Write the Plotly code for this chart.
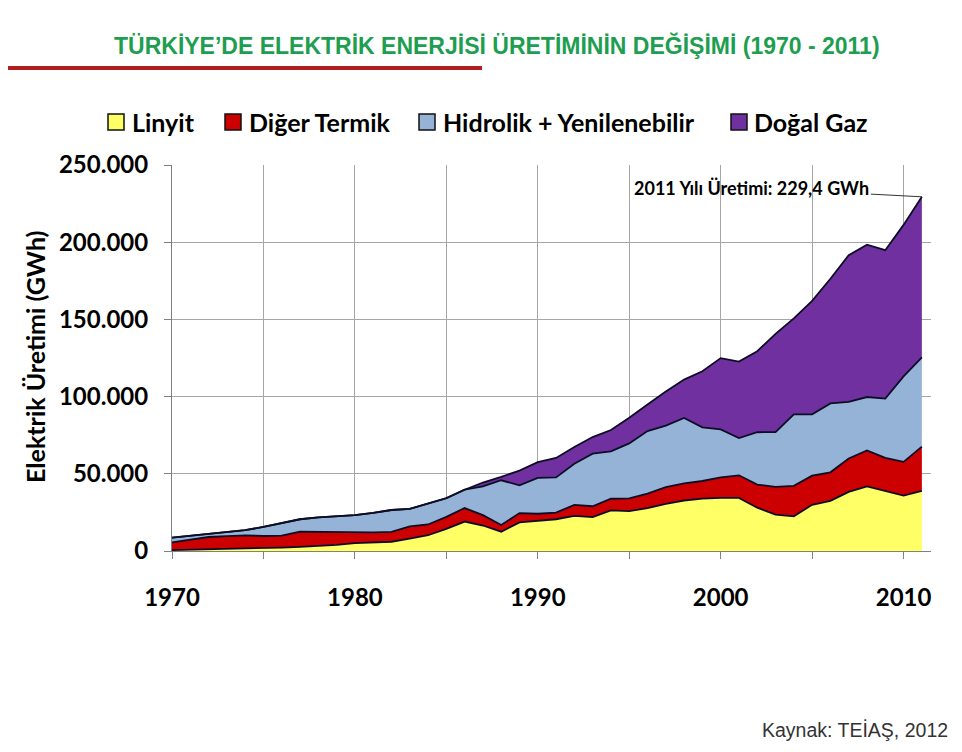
import plotly.graph_objects as go

years = list(range(1970, 2012))

linyit = [600, 800, 1000, 1300, 1500, 1800, 2200, 2700, 3300, 4000,
          5049, 5600, 6000, 8000, 10200, 14318, 19069, 16500, 12500, 18500,
          19561, 20563, 22756, 21964, 26257, 25815, 27840, 30587, 32707, 33908,
          34367, 34372, 28056, 23590, 22450, 29946, 32433, 38295, 41858, 39089,
          35942, 38870]

diger_termik = [4990, 6371, 8061, 8386, 8619, 7919, 7708, 9850, 9046, 8231,
                6878, 6457, 6385, 8004, 6988, 7798, 8753, 6707, 4359, 6056,
                4562, 4330, 7134, 7035, 7578, 8226, 9289, 10724, 11148, 11427,
                13350, 14652, 14993, 17936, 19766, 18850, 18550, 21621, 23278, 21259,
                21778, 28734]

hidrolik_yen = [3033, 2610, 2181, 2603, 3358, 5904, 8375, 8015, 9380, 10291,
                11348, 12616, 14167, 11343, 13426, 12045, 11873, 18618, 28950, 17940,
                23228, 22764, 26638, 34021, 30665, 35627, 40559, 39899, 42329, 34759,
                30988, 24152, 33854, 35519, 46240, 39715, 44626, 36617, 34597, 38370,
                55344, 57743]

dogal_gaz = [0, 0, 0, 0, 0, 0, 0, 0, 0, 0,
             0, 0, 0, 0, 0, 58, 0, 2528, 2240, 9547,
             10192, 12589, 10814, 10788, 13822, 16579, 17174, 22086, 24838, 36346,
             46217, 49549, 52497, 63536, 62242, 73445, 80691, 95025, 98685, 96095,
             98144, 104048]

series_names = ["Linyit", "Diğer Termik", "Hidrolik + Yenilenebilir", "Doğal Gaz"]
series_values = [linyit, diger_termik, hidrolik_yen, dogal_gaz]
series_colors = ["#FFFF66", "#CC0000", "#95B3D7", "#7030A0"]

x_tickvals = list(range(1970, 2011, 5))
x_ticktext = ["1970", "", "1980", "", "1990", "", "2000", "", "2010"]
y_tickvals = [0, 50000, 100000, 150000, 200000, 250000]
y_ticktext = ["0", "50.000", "100.000", "150.000", "200.000", "250.000"]

total_2011 = sum(s[-1] for s in series_values)

FONT = "Lato, 'Open Sans', sans-serif"

# figure geometry (page is offset by the 8px body margin)
OFF = 8
W, H = 946, 736
ML, MR, MT, MB = 164, 23, 157, 193
PW = W - ML - MR
PH = H - MT - MB


def px(xpage):
    return (xpage - OFF - ML) / PW


def py(ypage):
    return (H - MB - (ypage - OFF)) / PH


fig = go.Figure()
for name, vals, col in zip(series_names, series_values, series_colors):
    fig.add_trace(go.Scatter(
        x=years, y=vals, name=name, mode="lines",
        stackgroup="one", fillcolor=col, showlegend=False,
        line=dict(color="#0d0d26", width=1.8, shape="linear"),
    ))

fig.update_layout(
    width=W, height=H,
    paper_bgcolor="white", plot_bgcolor="white",
    margin=dict(l=ML, r=MR, t=MT, b=MB, autoexpand=False),
    showlegend=False,
    font=dict(family=FONT, color="black"),
)

fig.update_xaxes(
    range=[1970, 2011.5], tickvals=x_tickvals, ticktext=x_ticktext,
    showgrid=True, gridcolor="#a6a6a6", gridwidth=1,
    showline=True, linecolor="#808080", linewidth=1,
    ticks="outside", ticklen=7, tickcolor="#808080",
    ticklabelstandoff=18,
    tickfont=dict(family=FONT, size=24, color="black", weight="bold"),
    zeroline=False,
)
fig.update_yaxes(
    range=[0, 250000], tickvals=y_tickvals, ticktext=y_ticktext,
    showgrid=True, gridcolor="#a6a6a6", gridwidth=1,
    showline=True, linecolor="#808080", linewidth=1,
    ticks="outside", ticklen=7, tickcolor="#808080",
    ticklabelstandoff=11,
    tickfont=dict(family=FONT, size=24, color="black", weight="bold"),
    zeroline=False,
)

annotations = [
    dict(text="TÜRKİYE’DE ELEKTRİK ENERJİSİ ÜRETİMİNİN DEĞİŞİMİ (1970 - 2011)",
         xref="paper", yref="paper", x=px(497), y=py(45),
         xanchor="center", yanchor="middle", showarrow=False,
         font=dict(family="'Liberation Sans Narrow', 'Arial Narrow', 'Liberation Sans', sans-serif",
                   size=23, color="#1E9E50", weight="bold")),
    dict(text="Elektrik Üretimi (GWh)", textangle=-90,
         xref="paper", yref="paper", x=px(35), y=py(357),
         xanchor="center", yanchor="middle", showarrow=False,
         font=dict(family=FONT, size=25, color="black", weight="bold")),
    dict(text="2011 Yılı Üretimi: 229,4 GWh",
         x=2011, y=total_2011, xref="x", yref="y",
         showarrow=True, arrowhead=0, arrowwidth=1, arrowcolor="#333333",
         ax=-170, ay=-9, standoff=0,
         font=dict(family=FONT, size=18, color="black", weight="bold")),
    dict(text="Kaynak: TEİAŞ, 2012",
         xref="paper", yref="paper", x=px(950), y=py(730),
         xanchor="right", yanchor="middle", showarrow=False,
         font=dict(family="'Liberation Sans', Arial, sans-serif", size=19.5, color="#333333")),
]

# legend (squares + labels)
legend_sq_x = [108, 225, 419, 731]
legend_txt_x = [130, 247, 441, 752]
LEG_Y = 122
shapes = []
for name, col, sx, tx in zip(series_names, series_colors, legend_sq_x, legend_txt_x):
    shapes.append(dict(type="rect", xref="paper", yref="paper",
                       x0=px(sx), x1=px(sx + 16), y0=py(LEG_Y + 8), y1=py(LEG_Y - 8),
                       fillcolor=col, line=dict(color="#111111", width=1.5)))
    annotations.append(dict(text=name, xref="paper", yref="paper",
                            x=px(tx), y=py(LEG_Y), xanchor="left", yanchor="middle",
                            showarrow=False,
                            font=dict(family=FONT, size=25, color="black", weight="bold")))

shapes.append(dict(type="line", xref="paper", yref="paper",
                   x0=px(0), x1=px(482), y0=py(68), y1=py(68),
                   line=dict(color="#B01E1E", width=4)))

fig.update_layout(annotations=annotations, shapes=shapes)

fig.write_html("out.html")
